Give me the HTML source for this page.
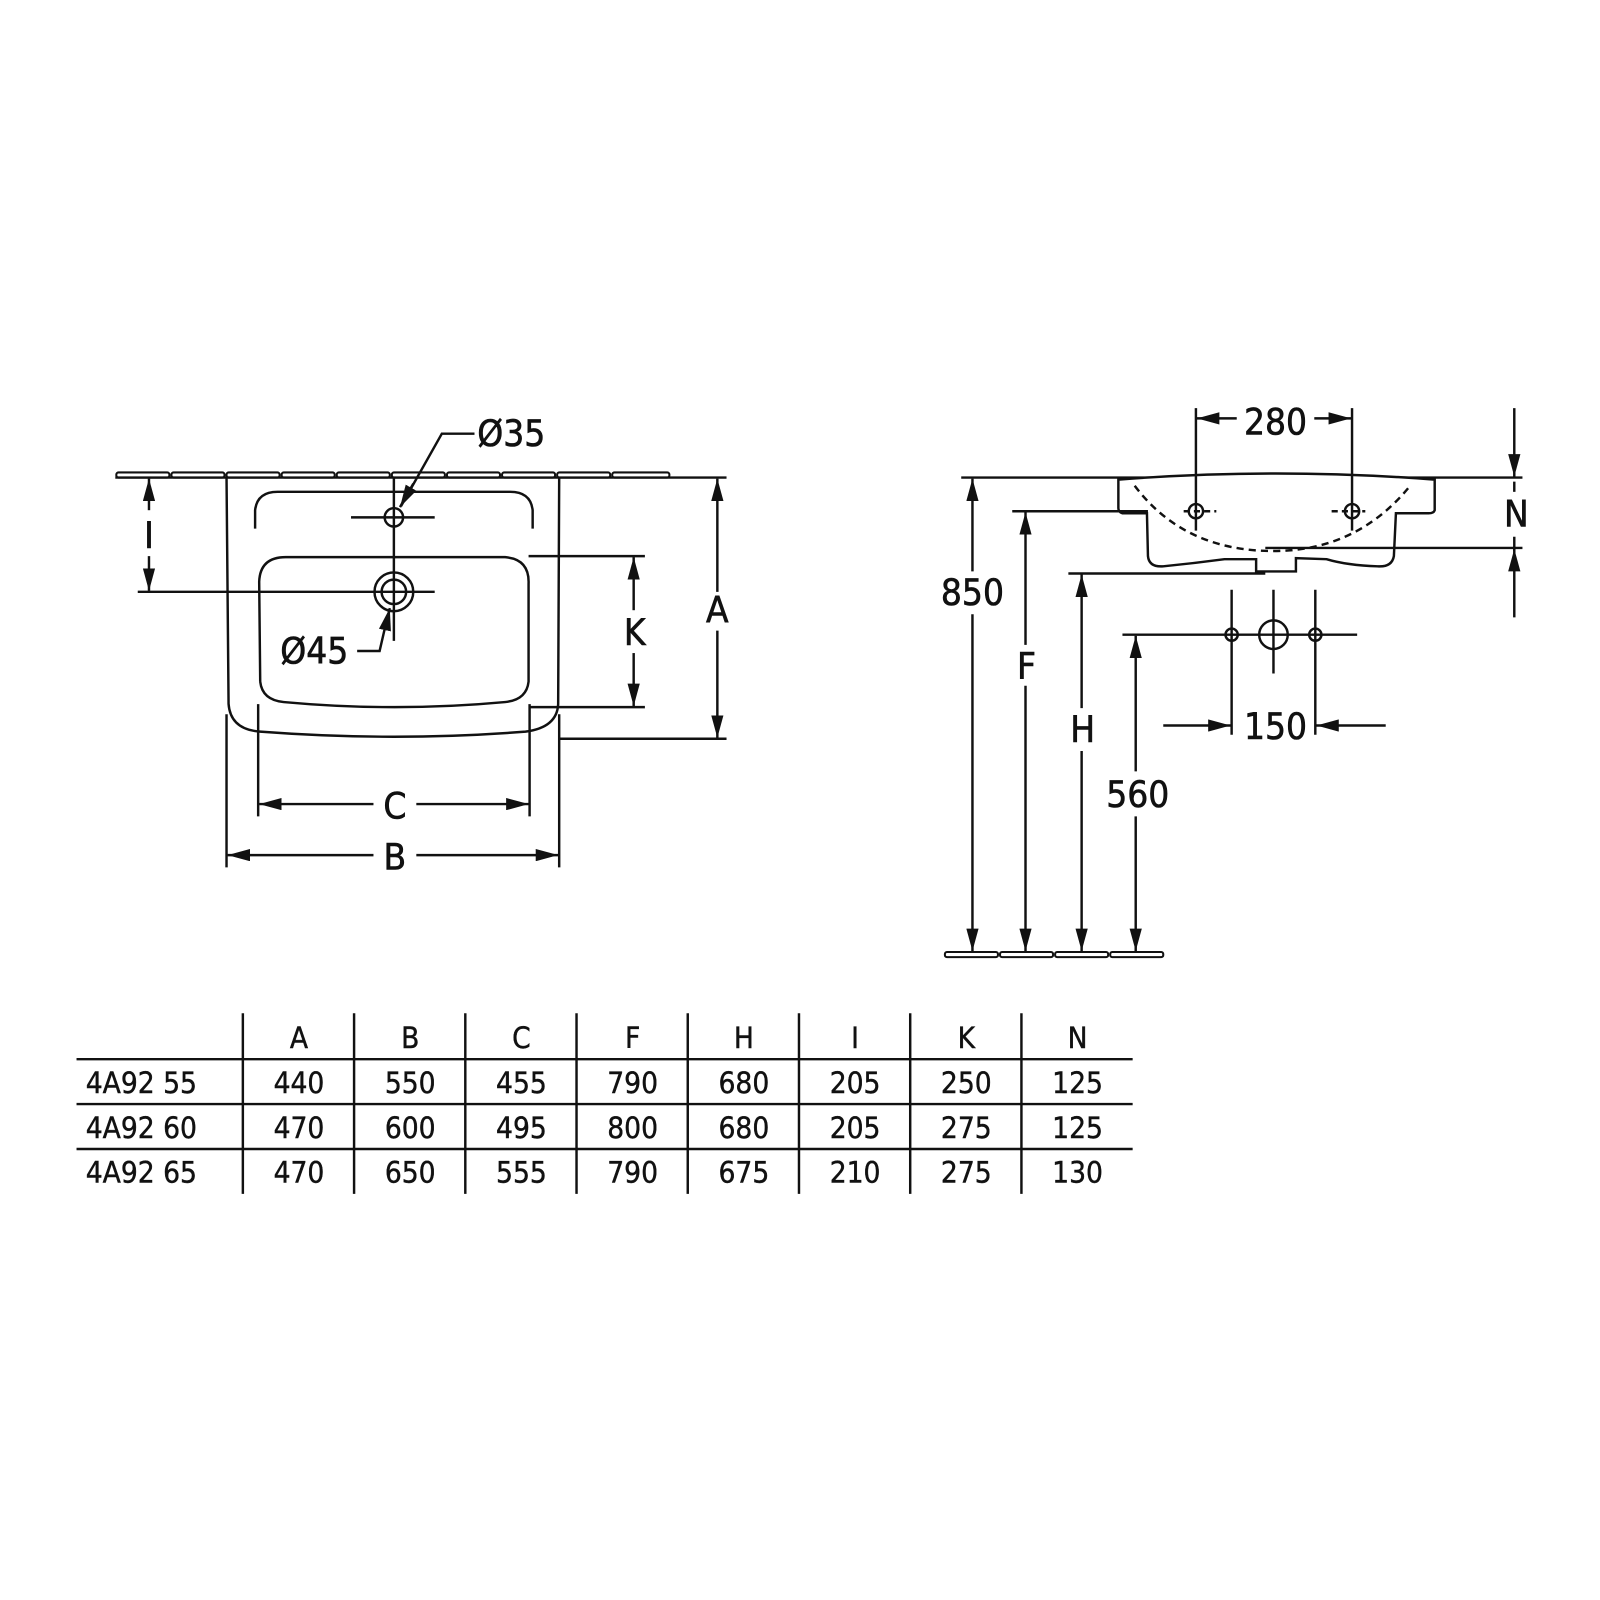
<!DOCTYPE html>
<html><head><meta charset="utf-8"><style>
html,body{margin:0;padding:0;background:#fff}
svg{display:block}
text{font-family:"DejaVu Sans Condensed","DejaVu Sans","Liberation Sans",sans-serif;fill:#111}
</style></head><body>
<svg width="1600" height="1600" viewBox="0 0 1568 1568" xmlns="http://www.w3.org/2000/svg">
<defs>
<marker id="a" viewBox="0 0 22 12" refX="22" refY="6" markerWidth="22" markerHeight="12" markerUnits="userSpaceOnUse" orient="auto-start-reverse">
<path d="M0,0 L22,6 L0,12 z" fill="#111"/></marker>
</defs>
<g stroke="#111" stroke-width="2.4" fill="none">
<g fill="#fff" stroke-width="2">
<rect x="114" y="463" width="52" height="5" rx="2"/><rect x="168" y="463" width="52" height="5" rx="2"/><rect x="222" y="463" width="52" height="5" rx="2"/><rect x="276" y="463" width="52" height="5" rx="2"/><rect x="330" y="463" width="52" height="5" rx="2"/><rect x="384" y="463" width="52" height="5" rx="2"/><rect x="438" y="463" width="52" height="5" rx="2"/><rect x="492" y="463" width="52" height="5" rx="2"/><rect x="546" y="463" width="52" height="5" rx="2"/><rect x="600" y="463" width="56" height="5" rx="2"/>
</g>
<line x1="113" y1="468" x2="712" y2="468"/>
<path d="M222,468 L224,690 Q226,715 255,717 Q387,727 515,717 Q546,713 547,690 L548,468"/>
<path d="M250,518 L250,500 Q252,482 272,482 L500,482 Q520,482 522,500 L522,518"/>
<path d="M255,668 L254,570 Q255,546 280,546 L495,546 Q519,548 518,572 L518,668 Q516,686 495,688 Q387,698 278,688 Q257,686 255,668"/>
<circle cx="386" cy="507" r="9"/>
<line x1="344" y1="507" x2="426" y2="507"/>
<line x1="386" y1="468" x2="386" y2="628"/>
<circle cx="386" cy="580" r="19"/><circle cx="386" cy="580" r="12"/>
<line x1="135" y1="580" x2="426" y2="580"/>
<polyline points="465,425 433,425 393,496" />
<line x1="405" y1="474" x2="392" y2="497" marker-end="url(#a)"/>
<polyline points="350,638 372,638 378,612"/>
<line x1="378" y1="614" x2="382" y2="596" marker-end="url(#a)"/>
<line x1="146" y1="500" x2="146" y2="469" marker-end="url(#a)"/>
<line x1="146" y1="545" x2="146" y2="579" marker-end="url(#a)"/>
<line x1="518" y1="545" x2="632" y2="545"/>
<line x1="518" y1="693" x2="632" y2="693"/>
<line x1="621" y1="598" x2="621" y2="546" marker-end="url(#a)"/>
<line x1="621" y1="640" x2="621" y2="692" marker-end="url(#a)"/>
<line x1="548" y1="724" x2="712" y2="724"/>
<line x1="703" y1="580" x2="703" y2="469" marker-end="url(#a)"/>
<line x1="703" y1="618" x2="703" y2="723" marker-end="url(#a)"/>
<line x1="253" y1="690" x2="253" y2="800"/>
<line x1="519" y1="690" x2="519" y2="800"/>
<line x1="366" y1="788" x2="254" y2="788" marker-end="url(#a)"/>
<line x1="408" y1="788" x2="518" y2="788" marker-end="url(#a)"/>
<line x1="222" y1="700" x2="222" y2="850"/>
<line x1="548" y1="700" x2="548" y2="850"/>
<line x1="366" y1="838" x2="223" y2="838" marker-end="url(#a)"/>
<line x1="408" y1="838" x2="547" y2="838" marker-end="url(#a)"/>

<line x1="942" y1="468" x2="1492" y2="468"/>
<path d="M1096,470 Q1250,458 1406,470 L1406,500 Q1405,503 1400,503 L1368,503 L1366,545 Q1364,556 1350,555 Q1320,554 1300,548 L1270,547 L1270,560 L1231,560 L1231,548 L1200,548 Q1170,552 1140,555 Q1126,556 1125,545 L1124,503 L1100,503 Q1096,502 1096,498 Z" fill="#fff"/>
<path d="M1112,476 Q1160,540 1248,540 Q1330,540 1382,476" stroke-dasharray="7,5"/>
<circle cx="1172" cy="501" r="7"/><circle cx="1325" cy="501" r="7"/>
<line x1="1160" y1="501" x2="1192" y2="501" stroke-dasharray="6,4"/>
<line x1="1305" y1="501" x2="1338" y2="501" stroke-dasharray="6,4"/>
<line x1="1172" y1="400" x2="1172" y2="520"/>
<line x1="1325" y1="400" x2="1325" y2="520"/>
<line x1="1212" y1="410" x2="1173" y2="410" marker-end="url(#a)"/>
<line x1="1288" y1="410" x2="1324" y2="410" marker-end="url(#a)"/>
<line x1="1484" y1="400" x2="1484" y2="467" marker-end="url(#a)"/>
<line x1="1484" y1="605" x2="1484" y2="538" marker-end="url(#a)"/>
<line x1="1484" y1="472" x2="1484" y2="482"/>
<line x1="1484" y1="526" x2="1484" y2="540"/>
<line x1="1240" y1="537" x2="1492" y2="537"/>
<line x1="953" y1="560" x2="953" y2="469" marker-end="url(#a)"/>
<line x1="953" y1="602" x2="953" y2="932" marker-end="url(#a)"/>
<line x1="992" y1="501" x2="1125" y2="501"/>
<line x1="1005" y1="632" x2="1005" y2="502" marker-end="url(#a)"/>
<line x1="1005" y1="672" x2="1005" y2="932" marker-end="url(#a)"/>
<line x1="1047" y1="562" x2="1240" y2="562"/>
<line x1="1060" y1="694" x2="1060" y2="563" marker-end="url(#a)"/>
<line x1="1060" y1="736" x2="1060" y2="932" marker-end="url(#a)"/>
<line x1="1100" y1="622" x2="1330" y2="622"/>
<line x1="1113" y1="756" x2="1113" y2="623" marker-end="url(#a)"/>
<line x1="1113" y1="800" x2="1113" y2="932" marker-end="url(#a)"/>
<circle cx="1207" cy="622" r="6"/><circle cx="1248" cy="622" r="14"/><circle cx="1289" cy="622" r="6"/>
<line x1="1207" y1="578" x2="1207" y2="720"/>
<line x1="1248" y1="578" x2="1248" y2="660"/>
<line x1="1289" y1="578" x2="1289" y2="720"/>
<line x1="1140" y1="711" x2="1206" y2="711" marker-end="url(#a)"/>
<line x1="1358" y1="711" x2="1290" y2="711" marker-end="url(#a)"/>
<g fill="#fff" stroke-width="2">
<rect x="926" y="933" width="52" height="5" rx="2"/><rect x="980" y="933" width="52" height="5" rx="2"/><rect x="1034" y="933" width="52" height="5" rx="2"/><rect x="1088" y="933" width="52" height="5" rx="2"/>
</g>
<line x1="75" y1="1038" x2="1110" y2="1038"/>
<line x1="75" y1="1082" x2="1110" y2="1082"/>
<line x1="75" y1="1126" x2="1110" y2="1126"/>
<line x1="238" y1="993" x2="238" y2="1170"/><line x1="347" y1="993" x2="347" y2="1170"/><line x1="456" y1="993" x2="456" y2="1170"/><line x1="565" y1="993" x2="565" y2="1170"/><line x1="674" y1="993" x2="674" y2="1170"/><line x1="783" y1="993" x2="783" y2="1170"/><line x1="892" y1="993" x2="892" y2="1170"/><line x1="1001" y1="993" x2="1001" y2="1170"/>
</g>
<g font-size="36" text-anchor="middle" stroke="#111" stroke-width="0.6">
<text x="501" y="437">Ø35</text>
<text x="308" y="650">Ø45</text>
<text x="146" y="537">I</text>
<text x="622" y="632">K</text>
<text x="703" y="610">A</text>
<text x="387" y="802">C</text>
<text x="387" y="852">B</text>
<text x="1250" y="426">280</text>
<text x="1486" y="516">N</text>
<text x="953" y="593">850</text>
<text x="1006" y="665">F</text>
<text x="1061" y="727">H</text>
<text x="1115" y="791">560</text>
<text x="1250" y="724">150</text>
</g>
<g font-size="29" text-anchor="middle" stroke="#111" stroke-width="0.4">
<text x="293" y="1027">A</text><text x="402" y="1027">B</text><text x="511" y="1027">C</text><text x="620" y="1027">F</text><text x="729" y="1027">H</text><text x="838" y="1027">I</text><text x="947" y="1027">K</text><text x="1056" y="1027">N</text>
<text x="293" y="1071">440</text><text x="402" y="1071">550</text><text x="511" y="1071">455</text><text x="620" y="1071">790</text><text x="729" y="1071">680</text><text x="838" y="1071">205</text><text x="947" y="1071">250</text><text x="1056" y="1071">125</text>
<text x="293" y="1115">470</text><text x="402" y="1115">600</text><text x="511" y="1115">495</text><text x="620" y="1115">800</text><text x="729" y="1115">680</text><text x="838" y="1115">205</text><text x="947" y="1115">275</text><text x="1056" y="1115">125</text>
<text x="293" y="1159">470</text><text x="402" y="1159">650</text><text x="511" y="1159">555</text><text x="620" y="1159">790</text><text x="729" y="1159">675</text><text x="838" y="1159">210</text><text x="947" y="1159">275</text><text x="1056" y="1159">130</text>
</g>
<g font-size="29" text-anchor="start" stroke="#111" stroke-width="0.4">
<text x="84" y="1071">4A92 55</text><text x="84" y="1115">4A92 60</text><text x="84" y="1159">4A92 65</text>
</g>
</svg>
</body></html>
